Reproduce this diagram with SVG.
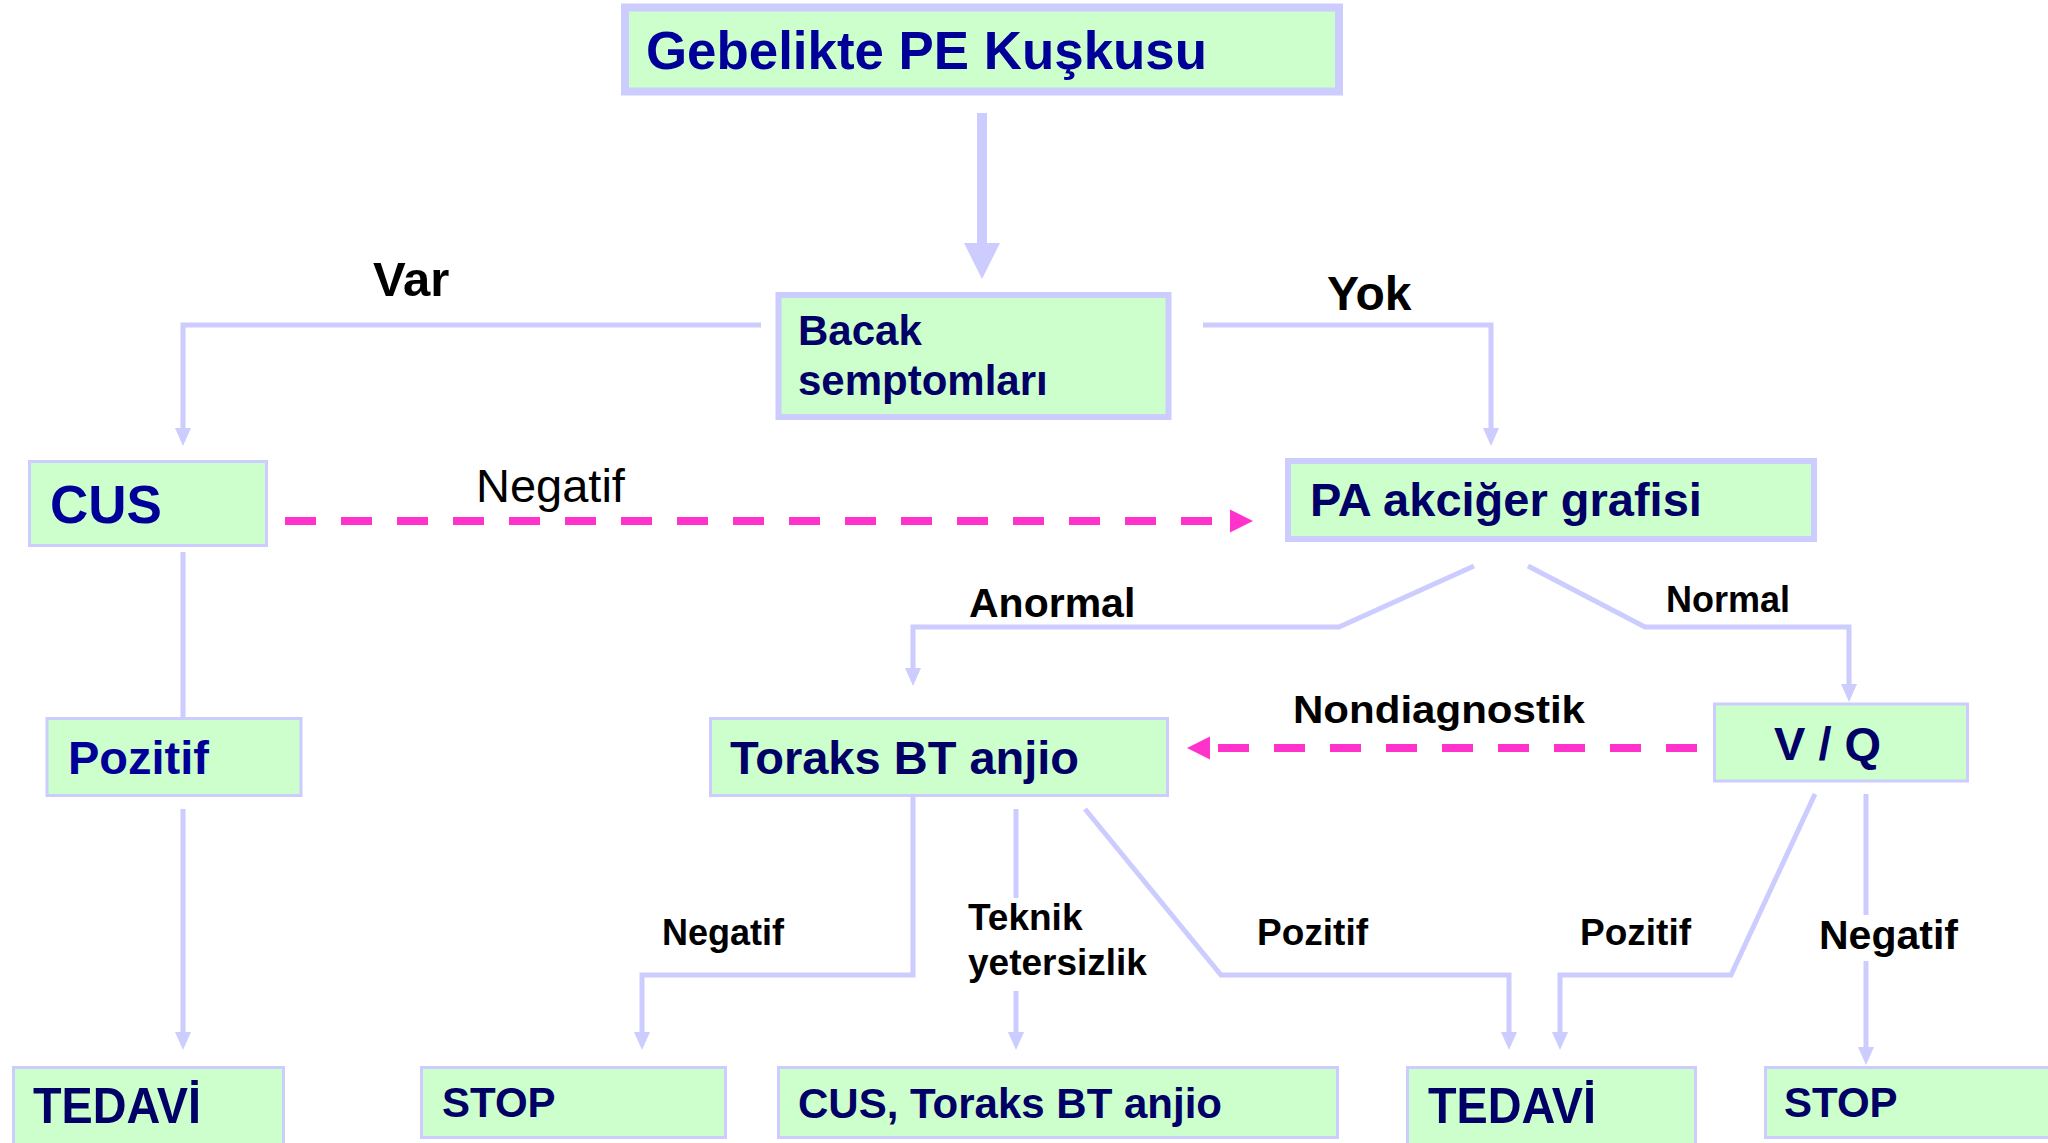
<svg xmlns="http://www.w3.org/2000/svg" width="2048" height="1143" viewBox="0 0 2048 1143">
<defs>
<style>
.box{fill:#CCFFCC;stroke:#CCCCFF}
.thick{stroke-width:7}
.thin{stroke-width:3}
.t{font-family:"Liberation Sans",Arial,sans-serif;font-weight:bold}
.b1{fill:#000099}
.b2{fill:#000066}
.lbl{font-family:"Liberation Sans",Arial,sans-serif;font-weight:bold;fill:#000000}
.lblr{font-family:"Liberation Sans",Arial,sans-serif;font-weight:normal;fill:#000000}
.c{fill:none;stroke:#CCCCFF;stroke-width:5}
.p{fill:none;stroke:#FF33CC;stroke-width:8;stroke-dasharray:31 25}
</style>
<marker id="ah" markerUnits="userSpaceOnUse" markerWidth="18" markerHeight="16" refX="0" refY="8" orient="auto" overflow="visible">
<path d="M0,0 L18,8 L0,16 z" fill="#CCCCFF"/>
</marker>
<marker id="big" markerUnits="userSpaceOnUse" markerWidth="36" markerHeight="36" refX="0" refY="18" orient="auto" overflow="visible">
<path d="M0,0 L36,18 L0,36 z" fill="#CCCCFF"/>
</marker>
<marker id="pk" markerUnits="userSpaceOnUse" markerWidth="23" markerHeight="23" refX="0" refY="11.5" orient="auto" overflow="visible">
<path d="M0,0 L23,11.5 L0,23 z" fill="#FF33CC"/>
</marker>
</defs>
<rect width="2048" height="1143" fill="#FFFFFF"/>

<g id="connectors">
<path d="M982,113 V243" fill="none" stroke="#CCCCFF" stroke-width="10" marker-end="url(#big)"/>
<path class="c" d="M761,325 H183 V428" marker-end="url(#ah)"/>
<path class="c" d="M1203,325 H1491 V428" marker-end="url(#ah)"/>
<path class="c" d="M183,552 V717"/>
<path class="c" d="M183,809 V1032" marker-end="url(#ah)"/>
<path class="c" d="M1474,566 L1339,627 H913 V668" marker-end="url(#ah)"/>
<path class="c" d="M1528,566 L1645,627 H1849 V684" marker-end="url(#ah)"/>
<path class="c" d="M913,795 V975 H642 V1032" marker-end="url(#ah)"/>
<path class="c" d="M1016,809 V898"/>
<path class="c" d="M1016,991 V1032" marker-end="url(#ah)"/>
<path class="c" d="M1085,809 L1221,975 H1509 V1032" marker-end="url(#ah)"/>
<path class="c" d="M1815,794 L1731,975 H1560 V1032" marker-end="url(#ah)"/>
<path class="c" d="M1866,794 V915"/>
<path class="c" d="M1866,961 V1047" marker-end="url(#ah)"/>
<path class="p" d="M285,521 H1230" marker-end="url(#pk)"/>
<path class="p" d="M1697,748 H1210" marker-end="url(#pk)"/>
<text class="lbl" x="373" y="296" font-size="49">Var</text>
<text class="lbl" x="1327" y="310" font-size="48">Yok</text>
<text class="lblr" x="476" y="502" font-size="47">Negatif</text>
<text class="lbl" x="969" y="617" font-size="41">Anormal</text>
<text class="lbl" x="1666" y="612" font-size="36">Normal</text>
<text class="lbl" x="1293" y="723" font-size="39" textLength="292" lengthAdjust="spacingAndGlyphs">Nondiagnostik</text>
<text class="lbl" x="662" y="945" font-size="36">Negatif</text>
<text class="lbl" x="968" y="930" font-size="37">Teknik</text>
<text class="lbl" x="968" y="975" font-size="37">yetersizlik</text>
<text class="lbl" x="1257" y="945" font-size="37">Pozitif</text>
<text class="lbl" x="1580" y="945" font-size="37">Pozitif</text>
<text class="lbl" x="1819" y="949" font-size="41">Negatif</text>
</g>

<g id="n-gebelikte">
<rect class="box thick" x="625" y="7.5" width="714" height="84" style="stroke-width:8"/>
<text class="t b1" x="646" y="69" font-size="54" textLength="561" lengthAdjust="spacingAndGlyphs">Gebelikte PE Kuşkusu</text>
</g>
<g id="n-bacak">
<rect class="box thick" x="778.5" y="295" width="390" height="122" style="stroke-width:6"/>
<text class="t b2" x="798" y="345" font-size="42">Bacak</text>
<text class="t b2" x="798" y="395" font-size="42">semptomları</text>
</g>
<g id="n-cus">
<rect class="box thin" x="29.5" y="461.5" width="237" height="84"/>
<text class="t b1" x="50" y="523" font-size="53">CUS</text>
</g>
<g id="n-pa">
<rect class="box thick" x="1288" y="461" width="526" height="78" style="stroke-width:6"/>
<text class="t b2" x="1310" y="516" font-size="47">PA akciğer grafisi</text>
</g>
<g id="n-pozitif">
<rect class="box thin" x="47" y="718.5" width="254" height="77"/>
<text class="t b1" x="68" y="774" font-size="47">Pozitif</text>
</g>
<g id="n-toraks">
<rect class="box thin" x="710.5" y="718.5" width="457" height="77"/>
<text class="t b2" x="730" y="774" font-size="47">Toraks BT anjio</text>
</g>
<g id="n-vq">
<rect class="box thin" x="1714.5" y="704" width="253" height="77"/>
<text class="t b2" x="1774" y="760" font-size="47">V / Q</text>
</g>
<g id="n-tedavi1">
<rect class="box thin" x="13.5" y="1067.5" width="270" height="90"/>
<text class="t b2" x="33" y="1123" font-size="50" textLength="168" lengthAdjust="spacingAndGlyphs">TEDAVİ</text>
</g>
<g id="n-stop1">
<rect class="box thin" x="421.5" y="1067.5" width="304" height="70"/>
<text class="t b2" x="442" y="1117" font-size="42">STOP</text>
</g>
<g id="n-custoraks">
<rect class="box thin" x="778.5" y="1067.5" width="559" height="70"/>
<text class="t b2" x="798" y="1118" font-size="42">CUS, Toraks BT anjio</text>
</g>
<g id="n-tedavi2">
<rect class="box thin" x="1407.5" y="1067.5" width="288" height="90"/>
<text class="t b2" x="1428" y="1123" font-size="50" textLength="168" lengthAdjust="spacingAndGlyphs">TEDAVİ</text>
</g>
<g id="n-stop2">
<rect class="box thin" x="1765.5" y="1067.5" width="300" height="70"/>
<text class="t b2" x="1784" y="1117" font-size="42">STOP</text>
</g>
</svg>
